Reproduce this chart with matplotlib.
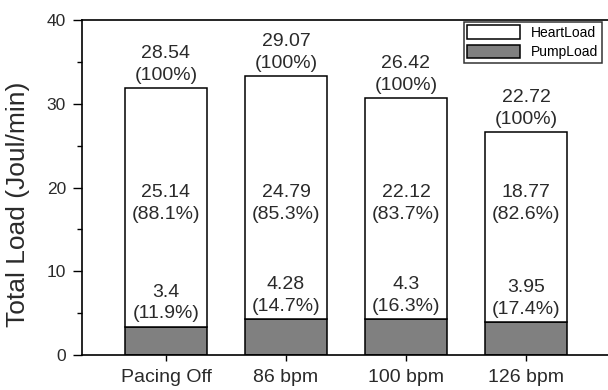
import matplotlib.pyplot as plt
from matplotlib.ticker import MultipleLocator
import numpy as np

plt.rcParams['font.family'] = ['Liberation Sans', 'DejaVu Sans']

categories = ['Pacing Off', '86 bpm', '100 bpm', '126 bpm']
pump_load = [3.4, 4.28, 4.3, 3.95]
total_load = [28.54, 29.07, 26.42, 22.72]
heart_load = [25.14, 24.79, 22.12, 18.77]
heart_pct = ['88.1%', '85.3%', '83.7%', '82.6%']
pump_pct = ['11.9%', '14.7%', '16.3%', '17.4%']

x = np.arange(1, len(categories) + 1)
w = 0.69

fig = plt.figure(figsize=(6.08, 3.9), dpi=100)
ax = fig.add_axes([82/608, 35/390, 540/608, 335/390])

# the original stacks the total on top of the pump load
ax.bar(x, pump_load, w, color='#808080', edgecolor='black', linewidth=1.1,
       label='PumpLoad', zorder=2)
ax.bar(x, total_load, w, bottom=pump_load, color='white', edgecolor='black',
       linewidth=1.1, label='HeartLoad', zorder=2)

fs = 14
tc = '#2a2a2a'
for i in range(len(x)):
    top = pump_load[i] + total_load[i]
    ax.text(x[i], top + 0.45, f'{total_load[i]}\n(100%)', ha='center',
            va='bottom', fontsize=fs, color=tc, linespacing=1.35)
    ax.text(x[i], 18.1, f'{heart_load[i]}\n({heart_pct[i]})', ha='center',
            va='center', fontsize=fs, color=tc, linespacing=1.35)
    ax.text(x[i], pump_load[i] + 0.5, f'{pump_load[i]}\n({pump_pct[i]})',
            ha='center', va='bottom', fontsize=fs, color=tc, linespacing=1.35)

ax.set_xlim(0.3, 4.8)
ax.set_ylim(0, 40)
ax.set_xticks(x)
ax.set_xticklabels(categories, fontsize=14, color=tc)
ax.yaxis.set_major_locator(MultipleLocator(10))
ax.yaxis.set_minor_locator(MultipleLocator(5))
ax.tick_params(axis='y', which='major', direction='out', length=6.5, width=1,
               labelsize=12.5, labelcolor=tc, pad=5)
ax.tick_params(axis='y', which='minor', direction='out', length=3.5, width=1)
ax.tick_params(axis='x', direction='out', length=4, width=1, pad=6)
ax.set_ylabel('Total Load (Joul/min)', fontsize=19, color=tc)
ax.yaxis.set_label_coords(-0.096, 0.45)
for s in ax.spines.values():
    s.set_linewidth(1.2)

h, l = ax.get_legend_handles_labels()
leg = ax.legend(h[::-1], l[::-1], loc='upper right',
                bbox_to_anchor=(602/608, 1 - 22/390), bbox_transform=fig.transFigure,
                fontsize=10, frameon=True, fancybox=False, edgecolor='black',
                handlelength=3.8, handleheight=1.1, borderpad=0.25,
                labelspacing=0.35, handletextpad=0.8, borderaxespad=0)
leg.get_frame().set_linewidth(1.1)

fig.savefig('out.png', dpi=100)
